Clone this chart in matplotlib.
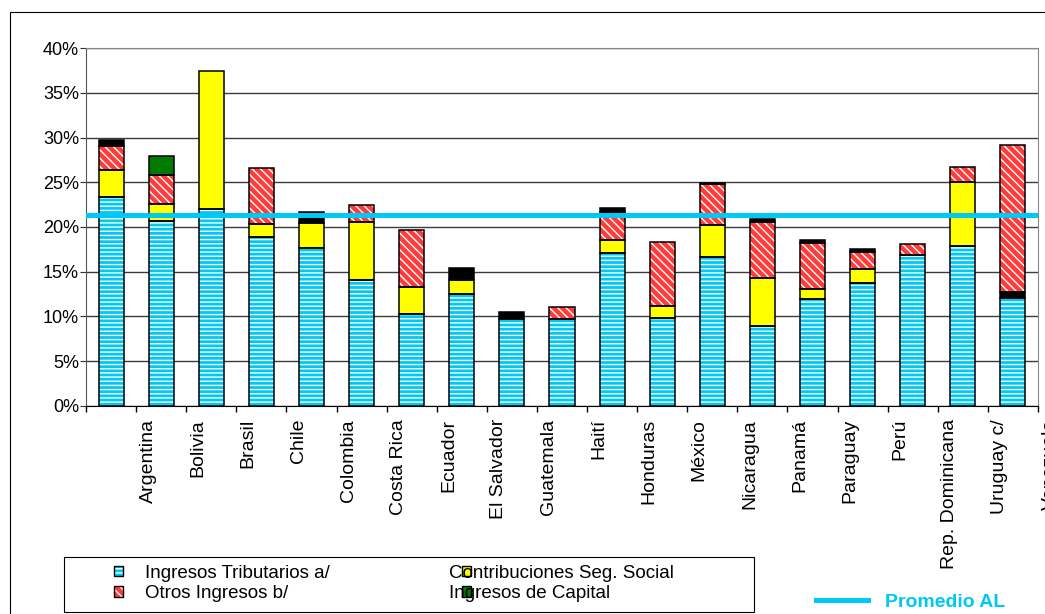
import numpy as np
import matplotlib
matplotlib.use('Agg')
import matplotlib.pyplot as plt
from matplotlib.patches import Rectangle, Patch
from matplotlib.lines import Line2D
from matplotlib.transforms import blended_transform_factory

plt.rcParams['font.family'] = ['Liberation Sans', 'DejaVu Sans']
plt.rcParams['hatch.linewidth'] = 1.0

# datos (% del PIB)
paises = ["Argentina", "Bolivia", "Brasil", "Chile", "Colombia", "Costa Rica",
          "Ecuador", "El Salvador", "Guatemala", "Haití", "Honduras", "México",
          "Nicaragua", "Panamá", "Paraguay", "Perú", "Rep. Dominicana",
          "Uruguay c/", "Venezuela"]
tributarios = [23.4, 20.7, 22.0, 18.9, 17.6, 14.1, 10.3, 12.5, 9.7, 9.75,
               17.1, 9.8, 16.6, 8.9, 11.9, 13.7, 16.9, 17.9, 12.0]
seg_social = [3.0, 1.9, 15.5, 1.4, 2.8, 6.5, 3.0, 1.6, 0, 0,
              1.4, 1.4, 3.6, 5.4, 1.2, 1.6, 0, 7.1, 0]
otros = [2.7, 3.2, 0, 6.3, 0, 1.9, 6.4, 0, 0, 1.25,
         3.2, 7.1, 4.6, 6.3, 5.15, 1.9, 1.2, 1.75, 16.45]
capital = [0, 2.2, 0, 0, 0, 0, 0, 0, 0, 0,
           0, 0, 0, 0, 0, 0, 0, 0, 0]
# segmento negro (sin leyenda); en el ultimo pais va debajo de "otros"
negro_bajo = [0, 0, 0, 0, 0, 0, 0, 0, 0, 0,
              0, 0, 0, 0, 0, 0, 0, 0, 0.75]
negro_alto = [0.6, 0, 0, 0, 1.3, 0, 0, 1.3, 0.75, 0,
              0.4, 0, 0.15, 0.3, 0.25, 0.3, 0, 0, 0]
promedio_al = 21.3

CIAN = '#00C8F5'
ROJO = '#FF3C3C'
AMARILLO = '#FFFF00'
VERDE = '#007A00'

fig = plt.figure(figsize=(10.45, 6.14), dpi=100)
ax = fig.add_axes([0.0823, 0.3393, 0.9933 - 0.0823, 0.9213 - 0.3393])

x = np.arange(len(paises))
width = 0.5

series = [(tributarios, CIAN, '----'),
          (negro_bajo, 'black', None),
          (seg_social, AMARILLO, None),
          (otros, ROJO, '\\\\\\\\'),
          (capital, VERDE, None),
          (negro_alto, 'black', None)]

bottom = np.zeros(len(x))
for vals, color, hatch in series:
    vals = np.asarray(vals, dtype=float)
    m = vals > 0
    if hatch:
        ax.bar(x[m], vals[m], width, bottom=bottom[m], color=color,
               edgecolor='white', linewidth=0, hatch=hatch, zorder=2)
    else:
        ax.bar(x[m], vals[m], width, bottom=bottom[m], color=color,
               linewidth=0, zorder=2)
    ax.bar(x[m], vals[m], width, bottom=bottom[m], fill=False,
           edgecolor='black', linewidth=1.1, zorder=3)
    bottom += vals

ax.axhline(promedio_al, color=CIAN, lw=3.6, zorder=4)

ax.set_xlim(-0.5, len(paises) - 0.5)
ax.set_ylim(0, 40)
yt = np.arange(0, 41, 5)
ax.set_yticks(yt)
ax.set_yticklabels([f'{v}%' for v in yt], fontsize=13)
ax.yaxis.grid(True, color='#3c3c3c', lw=1)
ax.set_axisbelow(True)
ax.set_xticks([])
ax.set_xticks(np.arange(-0.5, len(paises), 1), minor=True)
ax.tick_params(axis='x', which='minor', direction='out', length=4, width=1, color='black')
ax.tick_params(axis='y', direction='out', length=4, pad=1, color='#333333')

for s in ['top', 'right']:
    ax.spines[s].set_color('#888888')
ax.spines['left'].set_color('#555555')
ax.spines['bottom'].set_color('black')

trans = blended_transform_factory(ax.transData, ax.transAxes)
for i, p in enumerate(paises):
    ax.text(i + 0.74, -0.037, p, transform=trans, rotation=90, ha='center',
            va='top', fontsize=14, clip_on=False)

# leyenda
def caja(fc, hatch=None):
    if hatch:
        a = Patch(facecolor=fc, edgecolor='white', linewidth=0, hatch=hatch)
    else:
        a = Patch(facecolor=fc, linewidth=0)
    b = Patch(fill=False, edgecolor='black', linewidth=1)
    return (a, b)

fs = 13.5
kw = dict(frameon=False, fontsize=fs, handlelength=0.48, handleheight=0.48,
          labelspacing=0.2, borderpad=0, borderaxespad=0, loc='center left')
fig.legend([caja(CIAN, '----'), caja(ROJO, '\\\\\\\\')],
           ['Ingresos Tributarios a/', 'Otros Ingresos b/'],
           bbox_to_anchor=(114 / 1045, 1 - 583.5 / 614), handletextpad=1.16, **kw)
fig.legend([caja(AMARILLO), caja(VERDE)],
           ['Contribuciones Seg. Social', 'Ingresos de Capital'],
           bbox_to_anchor=(461.7 / 1045, 1 - 583.5 / 614), handletextpad=-1.16, **kw)
fig.add_artist(Rectangle((64 / 1045, 1 - 612 / 614), 690 / 1045, 55 / 614,
                         transform=fig.transFigure, fill=False,
                         edgecolor='black', lw=0.8))

fig.legend([Line2D([], [], color=CIAN, lw=3.6)], ['Promedio AL'],
           loc='center left', bbox_to_anchor=(816 / 1045, 1 - 602 / 614),
           frameon=False, handlelength=2.68, handletextpad=0.88,
           borderpad=0, borderaxespad=0,
           prop={'weight': 'bold', 'size': 14}, labelcolor=CIAN)

# borde exterior del grafico
fig.add_artist(Rectangle((9.5 / 1045, -0.5), 2, 1.5 - 12.5 / 614,
                         transform=fig.transFigure, fill=False,
                         edgecolor='black', lw=0.8))

fig.savefig('out.png', dpi=100)
